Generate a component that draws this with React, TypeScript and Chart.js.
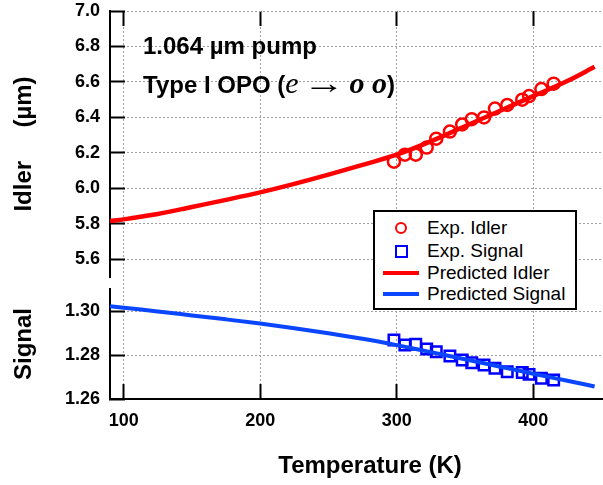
import React, { useEffect, useRef } from "react";
import { Chart, registerables } from "chart.js";

Chart.register(...registerables);

// ---- data ----
const EXP_TEMPERATURE = [298, 306, 314, 322, 329, 339, 348, 355, 364, 372, 381, 392, 397, 406, 415];
const EXP_IDLER = [6.15, 6.19, 6.19, 6.23, 6.28, 6.32, 6.36, 6.39, 6.40, 6.45, 6.47, 6.50, 6.52, 6.56, 6.59];
const EXP_SIGNAL = [1.2868, 1.2845, 1.2849, 1.2827, 1.2815, 1.2795, 1.2777, 1.2765, 1.2755, 1.2740, 1.2724, 1.2720, 1.2712, 1.2694, 1.2686];

const PRED_TEMPERATURE = [90, 100, 125, 150, 175, 200, 225, 250, 275, 300, 325, 350, 375, 400, 425, 445];
const PRED_IDLER = [5.815, 5.825, 5.855, 5.895, 5.935, 5.977, 6.025, 6.077, 6.132, 6.19, 6.265, 6.35, 6.435, 6.52, 6.605, 6.685];
const PRED_SIGNAL = [1.3022, 1.3015, 1.2998, 1.298, 1.2962, 1.2943, 1.2922, 1.2899, 1.2874, 1.2845, 1.2813, 1.2781, 1.2748, 1.2715, 1.2683, 1.2657];

const X_TICKS = [100, 200, 300, 400];
const IDLER_TICKS = [5.6, 5.8, 6.0, 6.2, 6.4, 6.6, 6.8, 7.0];
const SIGNAL_TICKS = [1.26, 1.28, 1.30];

const LEGEND_LABELS = ["Exp. Idler", "Exp. Signal", "Predicted Idler", "Predicted Signal"];

const SANS = '"Liberation Sans", Arial, Helvetica, sans-serif';
const SERIF = '"Liberation Serif", "Times New Roman", serif';

const RED = "#ff0000";
const BLUE_EXP = "#0000ff";
const BLUE_LINE = "#0a46ff";
const GRID = "#a0a0a0";

const zip = (xs: number[], ys: number[]) => xs.map((x, i) => ({ x, y: ys[i] }));

const noPad = (s: any) => {
  s.paddingTop = 0;
  s.paddingBottom = 0;
  s.paddingLeft = 0;
  s.paddingRight = 0;
};

export default function App() {
  const canvasRef = useRef<HTMLCanvasElement | null>(null);

  useEffect(() => {
    const canvas = canvasRef.current;
    if (!canvas) return;

    const tickFont = { family: SANS, size: 18, weight: "bold" as const };
    const titleFont = { family: SANS, size: 24, weight: "bold" as const };

    const gridOpts = {
      color: GRID,
      lineWidth: 1,
      tickLength: -15,
      tickColor: "#000",
      tickWidth: 2,
    };
    const borderOpts = { display: true, color: "#000", width: 2, dash: [2, 2] };

    const chart = new Chart(canvas, {
      type: "scatter",
      data: {
        datasets: [
          {
            label: LEGEND_LABELS[0],
            data: zip(EXP_TEMPERATURE, EXP_IDLER),
            yAxisID: "yI",
            pointStyle: "circle",
            pointRadius: 6,
            borderColor: RED,
            borderWidth: 2.5,
            backgroundColor: "rgba(0,0,0,0)",
            showLine: false,
            order: 1,
          },
          {
            label: LEGEND_LABELS[1],
            data: zip(EXP_TEMPERATURE, EXP_SIGNAL),
            yAxisID: "yS",
            pointStyle: "rect",
            pointRadius: 7.4,
            borderColor: BLUE_EXP,
            borderWidth: 2.5,
            backgroundColor: "rgba(0,0,0,0)",
            showLine: false,
            order: 4,
          },
          {
            label: LEGEND_LABELS[2],
            data: zip(PRED_TEMPERATURE, PRED_IDLER),
            yAxisID: "yI",
            showLine: true,
            pointRadius: 0,
            borderColor: RED,
            borderWidth: 4.5,
            cubicInterpolationMode: "monotone",
            order: 2,
          },
          {
            label: LEGEND_LABELS[3],
            data: zip(PRED_TEMPERATURE, PRED_SIGNAL),
            yAxisID: "yS",
            showLine: true,
            pointRadius: 0,
            borderColor: BLUE_LINE,
            borderWidth: 4,
            cubicInterpolationMode: "monotone",
            order: 3,
          },
        ],
      },
      options: {
        responsive: false,
        animation: false,
        layout: { padding: { top: 11, left: 0, right: 0, bottom: 0 } },
        plugins: { legend: { display: false }, tooltip: { enabled: false } },
        scales: {
          x: {
            type: "linear",
            position: "bottom",
            min: 90,
            max: 471,
            afterBuildTicks: (s: any) => {
              s.ticks = X_TICKS.map((v) => ({ value: v }));
            },
            afterFit: (s: any) => {
              s.height = 86;
              noPad(s);
            },
            grid: gridOpts,
            border: borderOpts,
            ticks: {
              font: tickFont,
              color: "#000",
              padding: 26,
              autoSkip: false,
              maxRotation: 0,
              callback: (v: any) => String(v),
            },
            title: {
              display: true,
              text: "Temperature (K)",
              font: titleFont,
              color: "#000",
              padding: { top: 0, bottom: 4 },
            },
          },
          xTop: {
            type: "linear",
            position: "top",
            min: 90,
            max: 471,
            afterBuildTicks: (s: any) => {
              s.ticks = X_TICKS.map((v) => ({ value: v }));
            },
            afterFit: (s: any) => {
              s.height = 0;
              noPad(s);
            },
            grid: {
              drawOnChartArea: false,
              tickLength: -15,
              tickColor: "#000",
              tickWidth: 2,
            },
            border: { display: false },
            ticks: { display: false, autoSkip: false },
          },
          yI: {
            type: "linear",
            position: "left",
            stack: "panels",
            stackWeight: 266,
            weight: 3,
            min: 5.5,
            max: 7.0,
            afterBuildTicks: (s: any) => {
              s.ticks = IDLER_TICKS.map((v) => ({ value: v }));
            },
            afterFit: (s: any) => {
              s.width = 110;
              noPad(s);
            },
            grid: gridOpts,
            border: borderOpts,
            ticks: {
              font: tickFont,
              color: "#000",
              padding: 25,
              autoSkip: false,
              callback: (v: any) => Number(v).toFixed(1),
            },
            title: {
              display: true,
              text: "Idler     (\u00b5m)",
              font: titleFont,
              color: "#000",
              padding: { top: 10, bottom: 0 },
            },
          },
          yGap: {
            type: "linear",
            position: "left",
            stack: "panels",
            stackWeight: 12,
            weight: 2,
            min: 0,
            max: 1,
            display: false,
          },
          yS: {
            type: "linear",
            position: "left",
            stack: "panels",
            stackWeight: 110,
            weight: 1,
            min: 1.26,
            max: 1.31,
            afterBuildTicks: (s: any) => {
              s.ticks = SIGNAL_TICKS.map((v) => ({ value: v }));
            },
            afterFit: (s: any) => {
              s.width = 110;
              noPad(s);
            },
            grid: gridOpts,
            border: borderOpts,
            ticks: {
              font: tickFont,
              color: "#000",
              padding: 25,
              autoSkip: false,
              callback: (v: any) => Number(v).toFixed(2),
            },
            title: {
              display: true,
              text: "Signal",
              font: titleFont,
              color: "#000",
              padding: { top: 10, bottom: 0 },
            },
          },
        },
      } as any,
    });

    return () => chart.destroy();
  }, []);

  const legendRow = (symbol: React.ReactNode, label: string, top: number) => (
    <div
      key={label}
      style={{
        position: "absolute",
        left: 0,
        top,
        height: 22,
        width: "100%",
        display: "flex",
        alignItems: "center",
      }}
    >
      <div style={{ width: 52, display: "flex", justifyContent: "center", alignItems: "center" }}>{symbol}</div>
      <span style={{ fontFamily: SANS, fontSize: 19, color: "#000", whiteSpace: "nowrap" }}>{label}</span>
    </div>
  );

  return (
    <div
      style={{
        position: "fixed",
        left: 0,
        top: 0,
        width: 603,
        height: 485,
        overflow: "hidden",
        background: "#fff",
      }}
    >
      <canvas ref={canvasRef} width={640} height={485} style={{ display: "block", width: 640, height: 485 }} />

      <div
        style={{
          position: "absolute",
          left: 143,
          top: 34,
          fontFamily: SANS,
          fontWeight: "bold",
          fontSize: 24,
          lineHeight: "24px",
          color: "#000",
          whiteSpace: "nowrap",
        }}
      >
        1.064 {"\u00b5"}m pump
      </div>
      <div
        style={{
          position: "absolute",
          left: 143,
          top: 71,
          fontFamily: SANS,
          fontWeight: "bold",
          fontSize: 24,
          lineHeight: "24px",
          color: "#000",
          whiteSpace: "nowrap",
        }}
      >
        Type I OPO (
        <span style={{ fontFamily: SERIF, fontStyle: "italic", fontWeight: "normal", fontSize: 30 }}>e</span>
        <span style={{ fontFamily: SERIF, fontWeight: "normal", fontSize: 30 }}>
          {" "}
          <span style={{ display: "inline-block", transform: "scaleX(1.4)", margin: "0 3px" }}>{"\u2192"}</span>
        </span>
        <span style={{ fontFamily: SERIF, fontStyle: "italic", fontWeight: "bold", fontSize: 30 }}>{" "}o o</span>)
      </div>

      <div
        style={{
          position: "absolute",
          left: 373,
          top: 210,
          width: 200,
          height: 96,
          border: "2px solid #000",
          background: "#fff",
        }}
      >
        {legendRow(
          <div style={{ width: 8, height: 8, borderRadius: "50%", border: `2.5px solid ${RED}` }} />,
          LEGEND_LABELS[0],
          5
        )}
        {legendRow(<div style={{ width: 9, height: 9, border: `2.5px solid ${BLUE_EXP}` }} />, LEGEND_LABELS[1], 28)}
        {legendRow(<div style={{ width: 36, height: 4, background: RED }} />, LEGEND_LABELS[2], 50)}
        {legendRow(<div style={{ width: 36, height: 4, background: BLUE_LINE }} />, LEGEND_LABELS[3], 71)}
      </div>
    </div>
  );
}
